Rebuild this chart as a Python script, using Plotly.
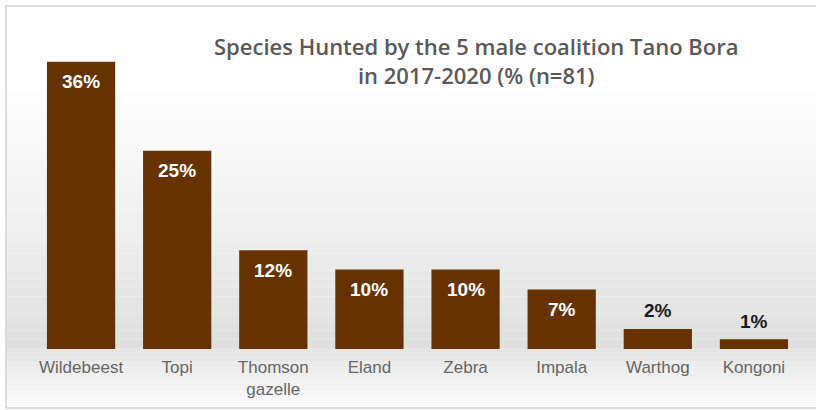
import plotly.graph_objects as go

categories = ["Wildebeest", "Topi", "Thomson<br>gazelle", "Eland", "Zebra", "Impala", "Warthog", "Kongoni"]
values = [35.8, 24.7, 12.3, 9.9, 9.9, 7.4, 2.5, 1.2]
labels = ["36%", "25%", "12%", "10%", "10%", "7%", "2%", "1%"]

W, H = 816, 410
L, R, T, B = 33, 14, 40, 61
pw, ph = W - L - R, H - T - B

def px(x):
    return (x - L) / pw

def py(y):
    return (H - B - y) / ph

bar_color = "#663300"
inside = [v >= 5 for v in values]

fig = go.Figure()
fig.add_trace(go.Bar(
    x=categories, y=values,
    marker=dict(color=bar_color, line=dict(width=0)),
    hoverinfo="skip",
))

annotations = []
for c, v, lab, ins in zip(categories, values, labels, inside):
    annotations.append(dict(
        x=c, y=v, xref="x", yref="y", text="<b>" + lab + "</b>",
        showarrow=False, xanchor="center", yanchor="middle",
        yshift=-20 if ins else 18,
        font=dict(family="Liberation Sans, Arial", size=19,
                  color="#ffffff" if ins else "#1a1a1a"),
    ))
annotations.append(dict(
    text="Species Hunted by the 5 male coalition Tano Bora<br>in 2017-2020 (% (n=81)",
    xref="paper", yref="paper", x=px(476), y=py(60),
    xanchor="center", yanchor="middle", showarrow=False,
    font=dict(family="Open Sans", size=22, color="#595959", weight=600),
))

# soft background gradient (style only)
shapes = []
def grey(level):
    g = int(round(level))
    return f"rgb({g},{g},{g})"
top_y, mid_y, bot_y = 90, 348, 406
n1 = 30
for i in range(n1):
    y0 = top_y + (mid_y - top_y) * i / n1
    y1 = top_y + (mid_y - top_y) * (i + 1) / n1
    lvl = 253 - (253 - 222) * ((i + 0.5) / n1) ** 1.3
    shapes.append(dict(type="rect", xref="paper", yref="paper",
                       x0=px(7), x1=px(816), y0=py(y1), y1=py(y0),
                       fillcolor=grey(lvl), line=dict(width=0), layer="below"))
n2 = 12
for i in range(n2):
    y0 = mid_y + (bot_y - mid_y) * i / n2
    y1 = mid_y + (bot_y - mid_y) * (i + 1) / n2
    lvl = 228 + (252 - 228) * ((i + 0.5) / n2)
    shapes.append(dict(type="rect", xref="paper", yref="paper",
                       x0=px(7), x1=px(816), y0=py(y1), y1=py(y0),
                       fillcolor=grey(lvl), line=dict(width=0), layer="below"))
shapes.append(dict(type="rect", xref="paper", yref="paper",
                   x0=px(6), x1=px(830), y0=py(408), y1=py(6),
                   line=dict(color="#d0d0d0", width=1.5), layer="below"))

fig.update_layout(
    width=W, height=H,
    margin=dict(l=L, r=R, t=T, b=B, autoexpand=False),
    paper_bgcolor="white", plot_bgcolor="rgba(0,0,0,0)",
    bargap=0.29,
    showlegend=False,
    xaxis=dict(showgrid=False, showline=False, zeroline=False, ticks="",
               automargin=False, ticklabelstandoff=6,
               tickfont=dict(family="Liberation Sans, Arial", size=17, color="#666666")),
    yaxis=dict(range=[0, 38.5], visible=False, automargin=False),
    shapes=shapes,
    annotations=annotations,
)

fig.write_html("out.html")
